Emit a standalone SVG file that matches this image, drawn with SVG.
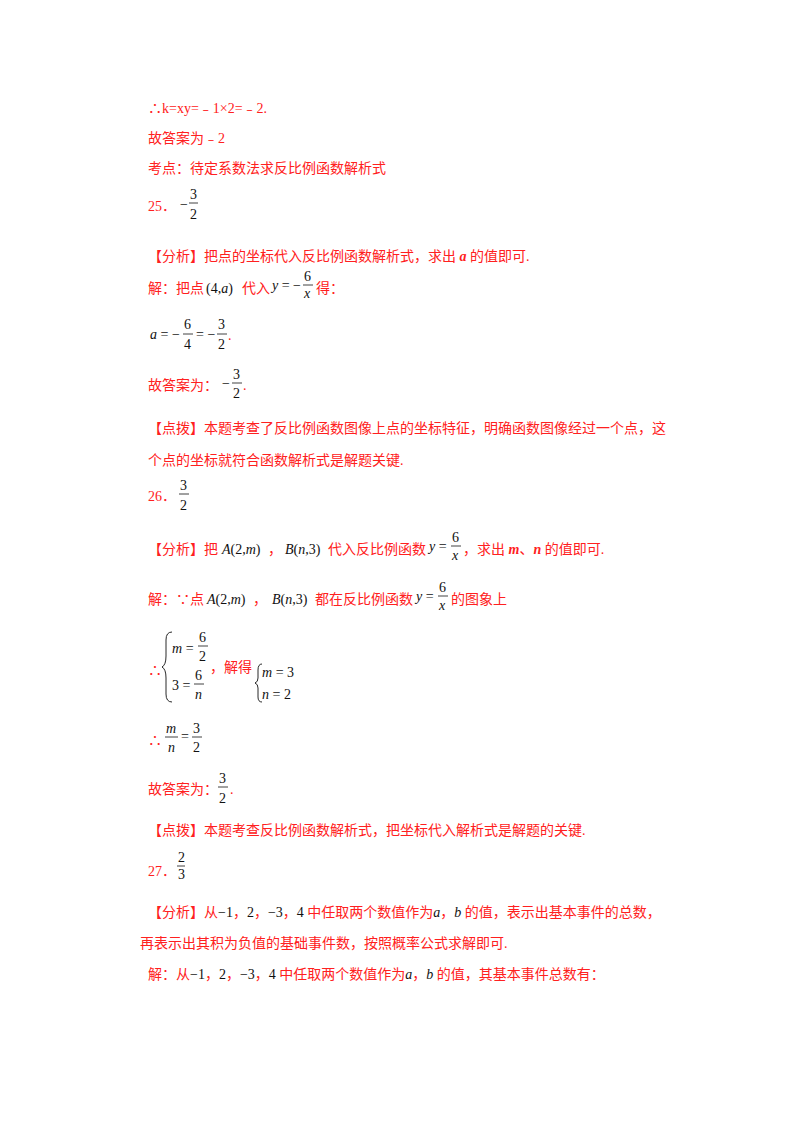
<svg xmlns="http://www.w3.org/2000/svg" width="800" height="1132" viewBox="0 0 800 1132">
<style>
.r{fill:#ff2020;font-family:"Liberation Serif","Noto Sans CJK SC",serif;font-size:14px}
.m{fill:#111;font-family:"Liberation Serif",serif;font-size:14px}
.i{font-style:italic}
.b{stroke:#111;stroke-width:0.8}
</style>
<rect width="800" height="1132" fill="#fff"/>
<text class="r" x="148" y="113">∴k=xy=﹣1×2=﹣2.</text>
<text class="r" x="148" y="143">故答案为﹣2</text>
<text class="r" x="148" y="173">考点：待定系数法求反比例函数解析式</text>
<text class="r" x="148" y="211">25．</text>
<g><text class="m" x="180" y="209">−</text><text class="m" x="190" y="199">3</text><line class="b" x1="189" y1="203" x2="198" y2="203"/><text class="m" x="190" y="219">2</text></g>
<text class="r" x="148" y="261">【分析】把点的坐标代入反比例函数解析式，求出 <tspan class="i" font-weight="bold">a</tspan> 的值即可.</text>
<text class="r" x="148" y="293">解：把点</text>
<text class="m" x="206" y="293" font-size="16">(4,<tspan class="i">a</tspan>)</text>
<text class="r" x="242" y="293">代入</text>
<text class="m" x="272" y="290"><tspan class="i">y</tspan> = −</text>
<text class="m" x="304" y="281">6</text><line class="b" x1="303" y1="285" x2="313" y2="285"/><text class="m i" x="304" y="298">x</text>
<text class="r" x="316" y="293">得：</text>
<text class="m" x="150" y="339"><tspan class="i">a</tspan> = −</text>
<text class="m" x="184" y="329">6</text><line class="b" x1="183" y1="334" x2="193" y2="334"/><text class="m" x="184" y="349">4</text>
<text class="m" x="196" y="339">= −</text>
<text class="m" x="218" y="329">3</text><line class="b" x1="217" y1="334" x2="227" y2="334"/><text class="m" x="218" y="349">2</text>
<text class="r" x="228" y="340">.</text>
<text class="r" x="148" y="390">故答案为：</text>
<text class="m" x="222" y="388">−</text>
<text class="m" x="233" y="379">3</text><line class="b" x1="232" y1="383" x2="242" y2="383"/><text class="m" x="233" y="398">2</text>
<text class="r" x="243" y="390">.</text>
<text class="r" x="148" y="433">【点拨】本题考查了反比例函数图像上点的坐标特征，明确函数图像经过一个点，这</text>
<text class="r" x="148" y="465">个点的坐标就符合函数解析式是解题关键.</text>
<text class="r" x="148" y="501">26．</text>
<text class="m" x="180" y="490">3</text><line class="b" x1="179" y1="494" x2="189" y2="494"/><text class="m" x="180" y="510">2</text>
<text class="r" x="148" y="554">【分析】把</text>
<text class="m" x="222" y="554"><tspan class="i">A</tspan>(2,<tspan class="i">m</tspan>)</text>
<text class="r" x="268" y="554">，</text>
<text class="m" x="285" y="554"><tspan class="i">B</tspan>(<tspan class="i">n</tspan>,3)</text>
<text class="r" x="328" y="554">代入反比例函数</text>
<text class="m" x="429" y="551"><tspan class="i">y</tspan> =</text>
<text class="m" x="452" y="542">6</text><line class="b" x1="451" y1="546" x2="461" y2="546"/><text class="m i" x="452" y="560">x</text>
<text class="r" x="463" y="554">，求出 <tspan class="i" font-weight="bold">m</tspan>、<tspan class="i" font-weight="bold">n</tspan> 的值即可.</text>
<text class="r" x="148" y="604">解：∵点</text>
<text class="m" x="207" y="604"><tspan class="i">A</tspan>(2,<tspan class="i">m</tspan>)</text>
<text class="r" x="253" y="604">，</text>
<text class="m" x="272" y="604"><tspan class="i">B</tspan>(<tspan class="i">n</tspan>,3)</text>
<text class="r" x="315" y="604">都在反比例函数</text>
<text class="m" x="416" y="601"><tspan class="i">y</tspan> =</text>
<text class="m" x="439" y="592">6</text><line class="b" x1="438" y1="596" x2="448" y2="596"/><text class="m i" x="439" y="610">x</text>
<text class="r" x="451" y="604">的图象上</text>
<text class="r" x="148" y="675">∴</text>
<path d="M172,632 Q166,632 166,640 L166,656 Q166,665 162,667 Q166,669 166,678 L166,694 Q166,702 172,702" fill="none" stroke="#111" stroke-width="0.9"/>
<text class="m" x="172" y="653"><tspan class="i">m</tspan> =</text>
<text class="m" x="199" y="642">6</text><line class="b" x1="198" y1="646" x2="208" y2="646"/><text class="m" x="199" y="661">2</text>
<text class="m" x="172" y="690">3 =</text>
<text class="m" x="195" y="680">6</text><line class="b" x1="194" y1="684" x2="204" y2="684"/><text class="m i" x="195" y="699">n</text>
<text class="r" x="210" y="672">，解得</text>
<path d="M262,664 Q258,664 258,670 L258,678 Q258,682 255,683 Q258,684 258,688 L258,697 Q258,702 262,702" fill="none" stroke="#111" stroke-width="0.9"/>
<text class="m" x="262" y="677"><tspan class="i">m</tspan> = 3</text>
<text class="m" x="262" y="699"><tspan class="i">n</tspan> = 2</text>
<text class="r" x="148" y="745">∴</text>
<text class="m i" x="166" y="733">m</text><line class="b" x1="165" y1="737" x2="178" y2="737"/><text class="m i" x="168" y="752">n</text>
<text class="m" x="181" y="741">=</text>
<text class="m" x="193" y="733">3</text><line class="b" x1="192" y1="737" x2="202" y2="737"/><text class="m" x="193" y="752">2</text>
<text class="r" x="148" y="794">故答案为：</text>
<text class="m" x="219" y="783">3</text><line class="b" x1="218" y1="787" x2="228" y2="787"/><text class="m" x="219" y="803">2</text>
<text class="r" x="230" y="794">.</text>
<text class="r" x="148" y="835">【点拨】本题考查反比例函数解析式，把坐标代入解析式是解题的关键.</text>
<text class="r" x="148" y="876">27．</text>
<text class="m" x="178" y="862" font-size="12">2</text><line class="b" x1="177" y1="866" x2="185" y2="866"/><text class="m" x="178" y="879" font-size="12">3</text>
<text class="r" x="148" y="917">【分析】从<tspan fill="#111">−1</tspan>，<tspan fill="#111">2</tspan>，<tspan fill="#111">−3</tspan>，<tspan fill="#111">4</tspan> 中任取两个数值作为<tspan fill="#111" class="i">a</tspan>，<tspan fill="#111" class="i">b</tspan> 的值，表示出基本事件的总数，</text>
<text class="r" x="140" y="948">再表示出其积为负值的基础事件数，按照概率公式求解即可.</text>
<text class="r" x="148" y="979">解：从<tspan fill="#111">−1</tspan>，<tspan fill="#111">2</tspan>，<tspan fill="#111">−3</tspan>，<tspan fill="#111">4</tspan> 中任取两个数值作为<tspan fill="#111" class="i">a</tspan>，<tspan fill="#111" class="i">b</tspan> 的值，其基本事件总数有：</text>
</svg>
